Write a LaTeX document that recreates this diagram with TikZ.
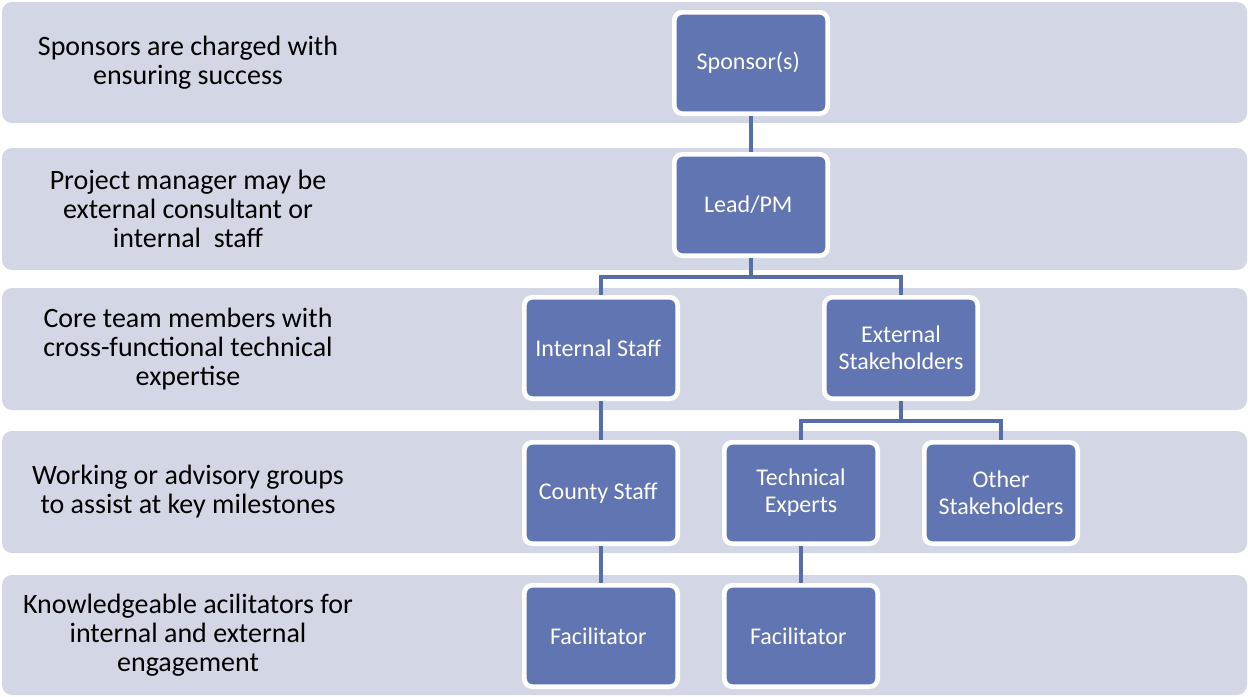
\documentclass[tikz,border=0pt]{standalone}
\usepackage{fontspec}
\setmainfont{Carlito}
\definecolor{bandgray}{RGB}{211,214,229}
\definecolor{boxblue}{RGB}{96,117,178}
\definecolor{linkblue}{RGB}{88,108,168}

\begin{document}
\begin{tikzpicture}[x=0.75pt, y=-0.75pt,
        band/.style={fill=bandgray, rounded corners=7.5pt},
        note/.style={align=center, font=\fontsize{21}{21.75}\selectfont},
        role/.style={draw=white, line width=3.5pt, fill=boxblue, rounded corners=6pt,
            minimum width=115pt, minimum height=76pt, inner sep=2pt,
            text=white, align=center, font=\fontsize{18}{20.25}\selectfont},
        link/.style={draw=linkblue, line width=3.5pt}]
            \useasboundingbox (0, 0) rectangle (1248, 696);

            % levels
            \foreach \top/\bot in {2/123, 148/270, 288/410, 431/553, 575/695}
                \fill[band] (2, \top) rectangle (1247, \bot);

            \node[note] (n1) at (188, 63) { Sponsors are charged with\\ensuring success };
            \node[note] (n2) at (188, 209) { Project manager may be\\external consultant or\\internal~~staff };
            \node[note] (n3) at (188, 349) { Core team members with\\cross-functional technical\\expertise };
            \node[note] (n4) at (188, 492) { Working or advisory groups\\to assist at key milestones };
            \node[note] (n5) at (188, 635) { Knowledgeable acilitators for\\internal and external\\engagement };

            % org chart
            \node[role] (spon) at (751, 63) { Sponsor(s) };
            \node[role] (lead) at (751, 205) { Lead/PM };
            \node[role] (int) at (601, 348) { Internal Staff };
            \node[role] (ext) at (901, 348) { External\\Stakeholders };
            \node[role] (county) at (601, 493) { County Staff };
            \node[role] (tech) at (801, 493) { Technical\\Experts };
            \node[role] (other) at (1001, 493) { Other\\Stakeholders };
            \node[role] (fac1) at (601, 636) { Facilitator };
            \node[role] (fac2) at (801, 636) { Facilitator };

            \draw[link] (spon) -- (lead);
            \draw[link] (lead.south) -- ++(0, 19) -| (int.north);
            \draw[link] (lead.south) -- ++(0, 19) -| (ext.north);
            \draw[link] (int) -- (county);
            \draw[link] (ext.south) -- ++(0, 20) -| (tech.north);
            \draw[link] (ext.south) -- ++(0, 20) -| (other.north);
            \draw[link] (county) -- (fac1);
            \draw[link] (tech) -- (fac2);
        \end{tikzpicture}
\end{document}
